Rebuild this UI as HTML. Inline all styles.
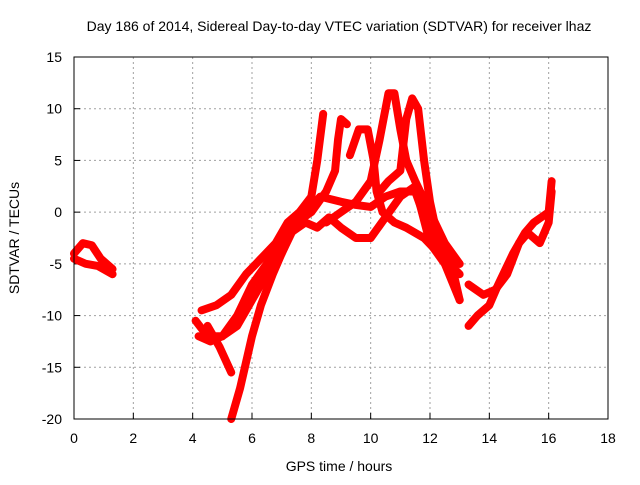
<!DOCTYPE html>
<html><head><meta charset="utf-8"><style>
body{margin:0;background:#fff}
svg text{font-family:"Liberation Sans",sans-serif;font-size:14px;fill:#000}
</style></head><body>
<svg id="chart" width="640" height="480">
<rect width="640" height="480" fill="#fff"/>
<text x="339" y="31" text-anchor="middle">Day 186 of 2014, Sidereal Day-to-day VTEC variation (SDTVAR) for receiver lhaz</text>
<g id="grid"></g><g id="ticks"></g><g id="marks"></g>
<rect x="74" y="57" width="534" height="362" fill="none" stroke="#000" stroke-width="1"/>
<text x="339" y="471" text-anchor="middle">GPS time / hours</text>
<text transform="translate(19,238) rotate(-90)" text-anchor="middle">SDTVAR / TECUs</text>
</svg>
<script>
const xTicks=[0,2,4,6,8,10,12,14,16,18];
const yTicks=[-20,-15,-10,-5,0,5,10,15];
const track1=[[0,-4],[0.3,-3],[0.6,-3.2],[0.9,-4.5],[1.3,-5.5]];
const track2=[[0,-4.5],[0.4,-5],[0.8,-5.2],[1.3,-6]];
const track3=[[4.1,-10.5],[4.5,-12],[5,-12],[5.5,-10],[6,-7],[6.5,-5],[7,-3],[7.5,-1],[8,0.5],[8.3,1.5],[9,1],[9.5,0.7],[10,0.5],[10.5,1.5],[11,2],[11.5,2],[12,-2],[12.5,-4],[13,-5]];
const track4=[[5.3,-20],[5.6,-17],[6,-12],[6.3,-9],[6.7,-6],[7,-4],[7.3,-2],[7.8,-1],[8.2,-1.5],[8.6,-0.5],[9,-1.5],[9.5,-2.5],[10,-2.5],[10.5,-0.5],[11,1.5],[11.5,2.5],[12,-3],[12.5,-5],[13,-8.5]];
const track5=[[4.3,-9.5],[4.8,-9],[5.3,-8],[5.8,-6],[6.3,-4.5],[6.8,-3],[7.2,-1],[7.6,0],[8,1.5],[8.2,5],[8.4,9.5]];
const track6=[[4.2,-12],[4.6,-12.5],[5,-12],[5.5,-11],[6,-8.5],[6.5,-6],[7,-4],[7.5,-1],[8,0],[8.5,2],[8.8,4],[8.9,7],[9,9],[9.2,8.5]];
const track7=[[4.5,-11],[4.9,-13],[5.3,-15.5]];
const track8=[[9.3,5.5],[9.6,8],[9.9,8],[10.1,5],[10.2,2],[10.4,0],[10.8,-1],[11.2,-1.5],[11.8,-2.5],[12.3,-4],[13,-6]];
const track9=[[8.5,-1],[9,0],[9.5,1],[10,3],[10.3,7],[10.6,11.5],[10.8,11.5],[11,8],[11.2,5],[11.5,3],[12,0],[12.5,-3],[13,-5]];
const track10=[[10.3,2],[10.6,3],[11,4],[11.2,9],[11.4,11],[11.6,10],[11.8,5],[12,1],[12.3,-3],[12.8,-6],[13,-8.5]];
const track11=[[13.3,-11],[13.6,-10],[14,-9],[14.3,-7],[14.8,-4],[15.2,-2],[15.5,-1],[16,0],[16.1,3]];
const track12=[[13.3,-7],[13.8,-8],[14.2,-7.5],[14.6,-6],[15,-3],[15.3,-2],[15.7,-3],[16,-1],[16.1,2]];
const tracks=[track1,track2,track3,track4,track5,track6,track7,track8,track9,track10,track11,track12];
const NS="http://www.w3.org/2000/svg";
const X0=74,X1=608,Y0=419,Y1=57;
function sx(v){return X0+(v-0)/(18-0)*(X1-X0);}
function sy(v){return Y0-(v+20)/(35)*(Y0-Y1);}
const grid=document.getElementById('grid'),ticks=document.getElementById('ticks'),marks=document.getElementById('marks');
xTicks.forEach(t=>{const x=sx(t);
 if(t>0&&t<18){const l=document.createElementNS(NS,'line');l.setAttribute('x1',x);l.setAttribute('x2',x);l.setAttribute('y1',Y1);l.setAttribute('y2',Y0);l.setAttribute('stroke','#a0a0a0');l.setAttribute('stroke-dasharray','2,3');
 
 grid.appendChild(l);}
 const k=document.createElementNS(NS,'line');k.setAttribute('x1',x);k.setAttribute('x2',x);k.setAttribute('y1',Y0);k.setAttribute('y2',Y0-6);k.setAttribute('stroke','#000');ticks.appendChild(k);
 const tx=document.createElementNS(NS,'text');tx.setAttribute('x',x);tx.setAttribute('y',Y0+24);tx.setAttribute('text-anchor','middle');tx.textContent=t;
 
 ticks.appendChild(tx);});
yTicks.forEach(t=>{const y=sy(t);
 if(t>-20&&t<15){const l=document.createElementNS(NS,'line');l.setAttribute('x1',X0);l.setAttribute('x2',X1);l.setAttribute('y1',y);l.setAttribute('y2',y);l.setAttribute('stroke','#a0a0a0');l.setAttribute('stroke-dasharray','2,3');
 
 grid.appendChild(l);}
 const k=document.createElementNS(NS,'line');k.setAttribute('x1',X0);k.setAttribute('x2',X0+6);k.setAttribute('y1',y);k.setAttribute('y2',y);k.setAttribute('stroke','#000');ticks.appendChild(k);
 const tx=document.createElementNS(NS,'text');tx.setAttribute('x',X0-12);tx.setAttribute('y',y+5);tx.setAttribute('text-anchor','end');tx.textContent=t;
 
 ticks.appendChild(tx);});
tracks.forEach((tr,i)=>{const p=document.createElementNS(NS,'polyline');
 p.setAttribute('points',tr.map(d=>sx(d[0])+','+sy(d[1])).join(' '));
 p.setAttribute('fill','none');p.setAttribute('stroke','#ff0000');p.setAttribute('stroke-width','8');p.setAttribute('stroke-linejoin','round');p.setAttribute('stroke-linecap','round');
 
 marks.appendChild(p);});
</script>
</body></html>
